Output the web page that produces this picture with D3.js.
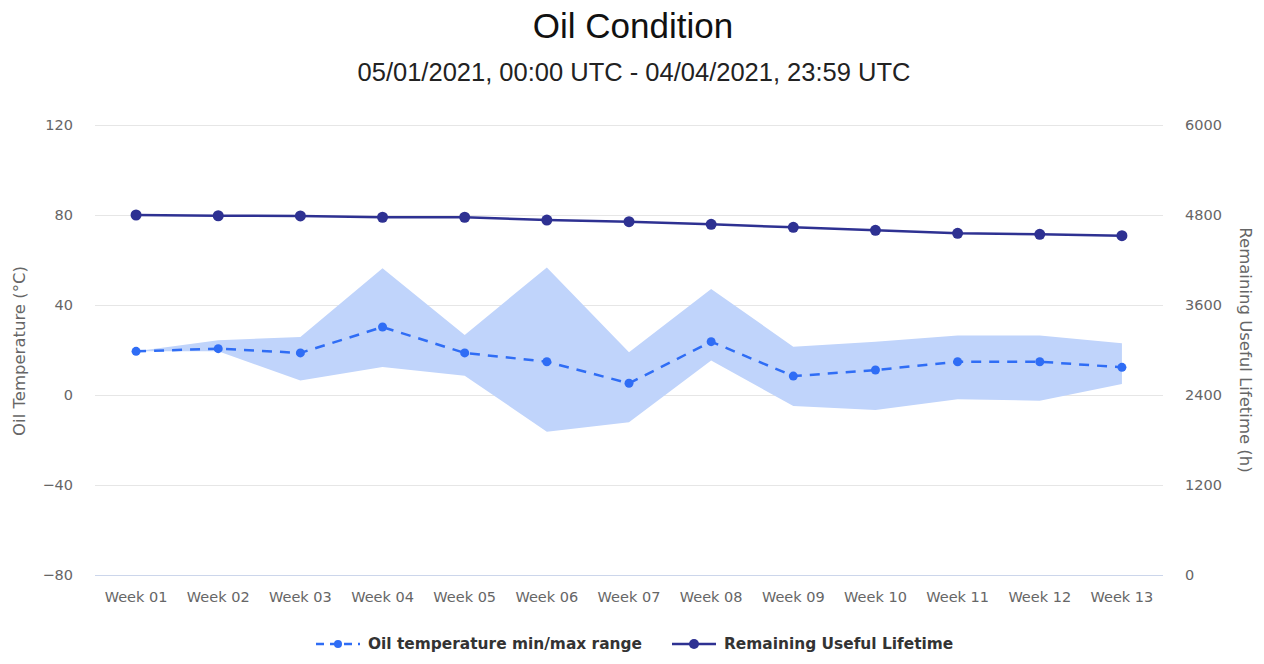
<!DOCTYPE html>
<html>
<head>
<meta charset="utf-8">
<script src="https://cdn.jsdelivr.net/npm/d3@7"></script>
<style>
  body { margin: 0; background: #fff; }
  svg { display: block; }
</style>
</head>
<body>
<div id="chart"></div>
<script>
// data
var weeks = ['Week 01', 'Week 02', 'Week 03', 'Week 04', 'Week 05', 'Week 06', 'Week 07',
             'Week 08', 'Week 09', 'Week 10', 'Week 11', 'Week 12', 'Week 13'];
var tempAvg = [19.4, 20.6, 18.7, 30.2, 18.7, 14.8, 5.2, 23.7, 8.4, 11.1, 14.8, 14.8, 12.3];
var tempMin = [19.4, 19.5, 6.4, 12.4, 8.6, -16.3, -12.1, 15.3, -4.9, -6.7, -1.9, -2.5, 4.9];
var tempMax = [19.4, 24.3, 25.8, 56.3, 26.7, 56.7, 19.0, 47.1, 21.5, 23.7, 26.4, 26.4, 23.0];
var lifetime = [4800, 4790, 4787, 4770, 4770, 4733, 4711, 4676, 4636, 4596, 4556, 4543, 4524];
var leftTicks = [-80, -40, 0, 40, 80, 120];
var rightTicks = [0, 1200, 2400, 3600, 4800, 6000];
var seriesNames = ['Oil temperature min/max range', 'Remaining Useful Lifetime'];

var W = 1264, H = 664;
var plot = { left: 95, right: 1163, top: 125, bottom: 575 };

var NAVY = '#2e3192', BLUE = '#2f6df5', AREA = '#c0d4fb';

var svg = d3.select('#chart').append('svg')
    .attr('width', W)
    .attr('height', H);

var x = d3.scaleBand()
    .domain(weeks)
    .range([plot.left, plot.right]);

var yL = d3.scaleLinear().domain([-80, 120]).range([plot.bottom, plot.top]);
var yR = d3.scaleLinear().domain([0, 6000]).range([plot.bottom, plot.top]);

function cx(d, i) { return x(weeks[i]) + x.bandwidth() / 2; }

// titles
svg.append('text')
    .attr('x', W / 2 + 1).attr('y', 38)
    .attr('text-anchor', 'middle')
    .style('font-family', 'Liberation Sans, Arial, sans-serif')
    .style('font-size', '35px')
    .style('fill', '#111')
    .text('Oil Condition');

svg.append('text')
    .attr('x', W / 2 + 2).attr('y', 81)
    .attr('text-anchor', 'middle')
    .style('font-family', 'Liberation Sans, Arial, sans-serif')
    .style('font-size', '25.5px')
    .style('fill', '#222')
    .text('05/01/2021, 00:00 UTC - 04/04/2021, 23:59 UTC');

// gridlines
svg.append('g')
  .selectAll('line')
  .data(leftTicks.filter(function (t) { return t !== -80; }))
  .join('line')
    .attr('x1', plot.left).attr('x2', plot.right)
    .attr('y1', function (d) { return Math.round(yL(d)) + 0.5; })
    .attr('y2', function (d) { return Math.round(yL(d)) + 0.5; })
    .style('stroke', '#e6e6e6')
    .style('stroke-width', 1);

// x axis line
svg.append('line')
    .attr('x1', plot.left).attr('x2', plot.right)
    .attr('y1', plot.bottom + 0.5).attr('y2', plot.bottom + 0.5)
    .style('stroke', '#ccd6eb');

var tickFont = 'DejaVu Sans, Verdana, sans-serif';

// left axis
var gL = svg.append('g')
    .attr('transform', 'translate(' + (plot.left - 22) + ',0)')
    .call(d3.axisLeft(yL).tickValues(leftTicks).tickSize(0).tickPadding(0)
      .tickFormat(function (d) { return d < 0 ? '\u2212' + Math.abs(d) : d; }));
gL.select('.domain').remove();
gL.selectAll('text')
    .style('font-family', tickFont)
    .style('font-size', '14.5px')
    .style('fill', '#666');

// right axis
var gR = svg.append('g')
    .attr('transform', 'translate(' + (plot.right + 22) + ',0)')
    .call(d3.axisRight(yR).tickValues(rightTicks).tickSize(0).tickPadding(0)
      .tickFormat(d3.format('d')));
gR.select('.domain').remove();
gR.selectAll('text')
    .style('font-family', tickFont)
    .style('font-size', '14.5px')
    .style('fill', '#666');

// bottom axis
var gB = svg.append('g')
    .attr('transform', 'translate(0,' + (plot.bottom + 17) + ')')
    .call(d3.axisBottom(x).tickSize(0).tickPadding(0));
gB.select('.domain').remove();
gB.selectAll('text')
    .attr('dy', '0.71em')
    .style('font-family', tickFont)
    .style('font-size', '14.5px')
    .style('fill', '#666');

// axis titles
svg.append('text')
    .attr('transform', 'translate(25,' + ((plot.top + plot.bottom) / 2 + 1) + ') rotate(-90)')
    .attr('text-anchor', 'middle')
    .style('font-family', tickFont)
    .style('font-size', '16.5px')
    .style('fill', '#666')
    .text('Oil Temperature (\u00b0C)');

svg.append('text')
    .attr('transform', 'translate(1240,' + ((plot.top + plot.bottom) / 2) + ') rotate(90)')
    .attr('text-anchor', 'middle')
    .style('font-family', tickFont)
    .style('font-size', '16.5px')
    .style('fill', '#666')
    .text('Remaining Useful Lifetime (h)');

// temperature range
var area = d3.area()
    .x(cx)
    .y0(function (d, i) { return yL(tempMin[i]); })
    .y1(function (d, i) { return yL(tempMax[i]); });

svg.append('path')
    .datum(weeks)
    .attr('d', area)
    .style('fill', AREA)
    .style('stroke', 'none');

var tempLine = d3.line()
    .x(cx)
    .y(function (d) { return yL(d); });

svg.append('path')
    .datum(tempAvg)
    .attr('d', tempLine)
    .style('fill', 'none')
    .style('stroke', BLUE)
    .style('stroke-width', 2.5)
    .style('stroke-dasharray', '10,8');

svg.append('g')
  .selectAll('circle')
  .data(tempAvg)
  .join('circle')
    .attr('cx', cx)
    .attr('cy', function (d) { return yL(d); })
    .attr('r', 4.5)
    .style('fill', BLUE);

// lifetime
var rulLine = d3.line()
    .x(cx)
    .y(function (d) { return yR(d); });

svg.append('path')
    .datum(lifetime)
    .attr('d', rulLine)
    .style('fill', 'none')
    .style('stroke', NAVY)
    .style('stroke-width', 2.5);

svg.append('g')
  .selectAll('circle')
  .data(lifetime)
  .join('circle')
    .attr('cx', cx)
    .attr('cy', function (d) { return yR(d); })
    .attr('r', 5.5)
    .style('fill', NAVY);

// legend
var legend = svg.append('g').attr('transform', 'translate(0,644)');
var items = [
  { name: seriesNames[0], color: BLUE, dash: '8,6', r: 4, x: 316 },
  { name: seriesNames[1], color: NAVY, dash: null, r: 5, x: 672 }
];
items.forEach(function (it) {
  legend.append('line')
      .attr('x1', it.x).attr('x2', it.x + 44)
      .attr('y1', 0).attr('y2', 0)
      .style('stroke', it.color)
      .style('stroke-width', 2.5)
      .style('stroke-dasharray', it.dash);
  legend.append('circle')
      .attr('cx', it.x + 22).attr('cy', 0)
      .attr('r', it.r)
      .style('fill', it.color);
  legend.append('text')
      .attr('x', it.x + 52).attr('y', 0)
      .attr('dy', '0.35em')
      .style('font-family', tickFont)
      .style('font-weight', 700)
      .style('font-size', '15.4px')
      .style('fill', '#333')
      .text(it.name);
});
</script>
</body>
</html>
